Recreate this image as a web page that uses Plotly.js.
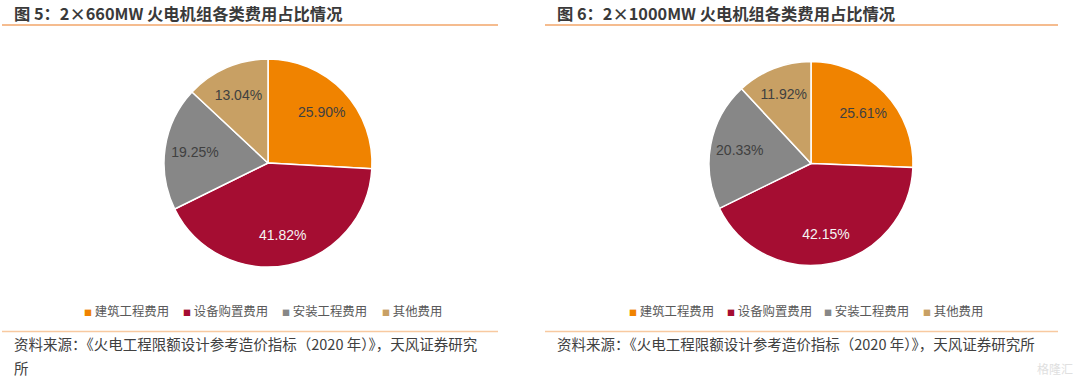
<!DOCTYPE html>
<html>
<head>
<meta charset="utf-8">
<script src="https://cdn.plot.ly/plotly-3.0.1.min.js"></script>
<style>html,body{margin:0;padding:0;background:#fff;}#chart{width:1080px;height:377px;}</style>
</head>
<body>
<div id="chart"></div>
<script>
// ---- data ----
const categories = ["建筑工程费用", "设备购置费用", "安装工程费用", "其他费用"];
const values660 = [25.90, 41.82, 19.25, 13.04];
const values1000 = [25.61, 42.15, 20.33, 11.92];
const colors = ["#F08300", "#A50D32", "#878787", "#C8A064"];
const labelColors = ["#404040", "#F4F4F4", "#404040", "#404040"];
const titleLeft = "图 5：2×660MW 火电机组各类费用占比情况";
const titleRight = "图 6：2×1000MW 火电机组各类费用占比情况";
const sourceLeftLines = ["资料来源：《火电工程限额设计参考造价指标（2020 年）》，天风证券研究", "所"];
const sourceRightLines = ["资料来源：《火电工程限额设计参考造价指标（2020 年）》，天风证券研究所"];

const W = 1080, H = 377;
const px = x => x / W;
const py = y => 1 - y / H;

// base pie (slices, no text)
function pieBase(vals, domain) {
  return {
    type: "pie", labels: categories, values: vals, sort: false,
    direction: "clockwise", rotation: 0, domain: domain,
    marker: {colors: colors, line: {color: "#FFFFFF", width: 1.5}},
    textinfo: "none", hoverinfo: "label+value", showlegend: false
  };
}
// transparent ring on top, carrying the percentage labels
function pieLabels(vals, domain) {
  return {
    type: "pie", labels: categories, values: vals, sort: false,
    direction: "clockwise", rotation: 0, domain: domain, hole: 0.42,
    marker: {colors: categories.map(() => "rgba(0,0,0,0)"), line: {width: 0}},
    textinfo: "text",
    text: vals.map(v => v.toFixed(2) + "%"),
    textposition: "inside",
    insidetextorientation: "horizontal",
    insidetextfont: {family: "Liberation Sans, Arial, sans-serif", size: 14, color: labelColors},
    hoverinfo: "skip", showlegend: false
  };
}

const dom1 = {x: [px(164), px(372)], y: [py(267), py(59)]};
const dom2 = {x: [px(709), px(913)], y: [py(265.5), py(61.5)]};
const traces = [
  pieBase(values660, dom1), pieLabels(values660, dom1),
  pieBase(values1000, dom2), pieLabels(values1000, dom2)
];

const annotations = [];
const shapes = [];
const titleFont = {family: "Noto Sans CJK SC, sans-serif", size: 16.3, color: "#3A3A3A", weight: "bold"};
const srcFont = {family: "Noto Sans CJK SC, sans-serif", size: 14.5, color: "#404040"};
const legFont = {family: "Noto Sans CJK SC, sans-serif", size: 12.4, color: "#595959"};

function panel(x0, x1, title, srcLines, legX) {
  annotations.push({xref: "paper", yref: "paper", x: px(x0 + 10), y: py(13), xanchor: "left", yanchor: "middle",
    text: "<b>" + title + "</b>", showarrow: false, font: titleFont});
  srcLines.forEach((s, i) => {
    annotations.push({xref: "paper", yref: "paper", x: px(x0 + 10), y: py(343 + 24 * i), xanchor: "left", yanchor: "middle",
      text: s, showarrow: false, font: srcFont, align: "left"});
  });
  shapes.push({type: "line", xref: "paper", yref: "paper", x0: px(x0), x1: px(x1), y0: py(25), y1: py(25),
    line: {color: "#F2A66A", width: 1.5}});
  shapes.push({type: "line", xref: "paper", yref: "paper", x0: px(x0), x1: px(x1), y0: py(331.5), y1: py(331.5),
    line: {color: "#F8C9A0", width: 1.5}});
  categories.forEach((c, i) => {
    annotations.push({xref: "paper", yref: "paper", x: px(legX[i] - 5), y: py(311), xanchor: "left", yanchor: "middle",
      text: '<span style="font-size:8px;color:' + colors[i] + '">■</span> ' + c,
      showarrow: false, font: legFont});
  });
}
panel(2, 498, titleLeft, sourceLeftLines, [87, 186, 285, 385]);
panel(545, 1058, titleRight, sourceRightLines, [632, 730, 827, 926]);

annotations.push({xref: "paper", yref: "paper", x: px(1075), y: py(368), xanchor: "right", yanchor: "middle",
  text: "格隆汇", showarrow: false, font: {family: "Noto Sans CJK SC, sans-serif", size: 12, color: "#E0E0E0"}});

const layout = {
  width: W, height: H,
  margin: {l: 0, r: 0, t: 0, b: 0},
  paper_bgcolor: "#FFFFFF", plot_bgcolor: "#FFFFFF",
  showlegend: false,
  annotations: annotations, shapes: shapes,
  font: {family: "Noto Sans CJK SC, sans-serif"}
};

Plotly.newPlot("chart", traces, layout, {displayModeBar: false, staticPlot: true});
</script>
</body>
</html>
